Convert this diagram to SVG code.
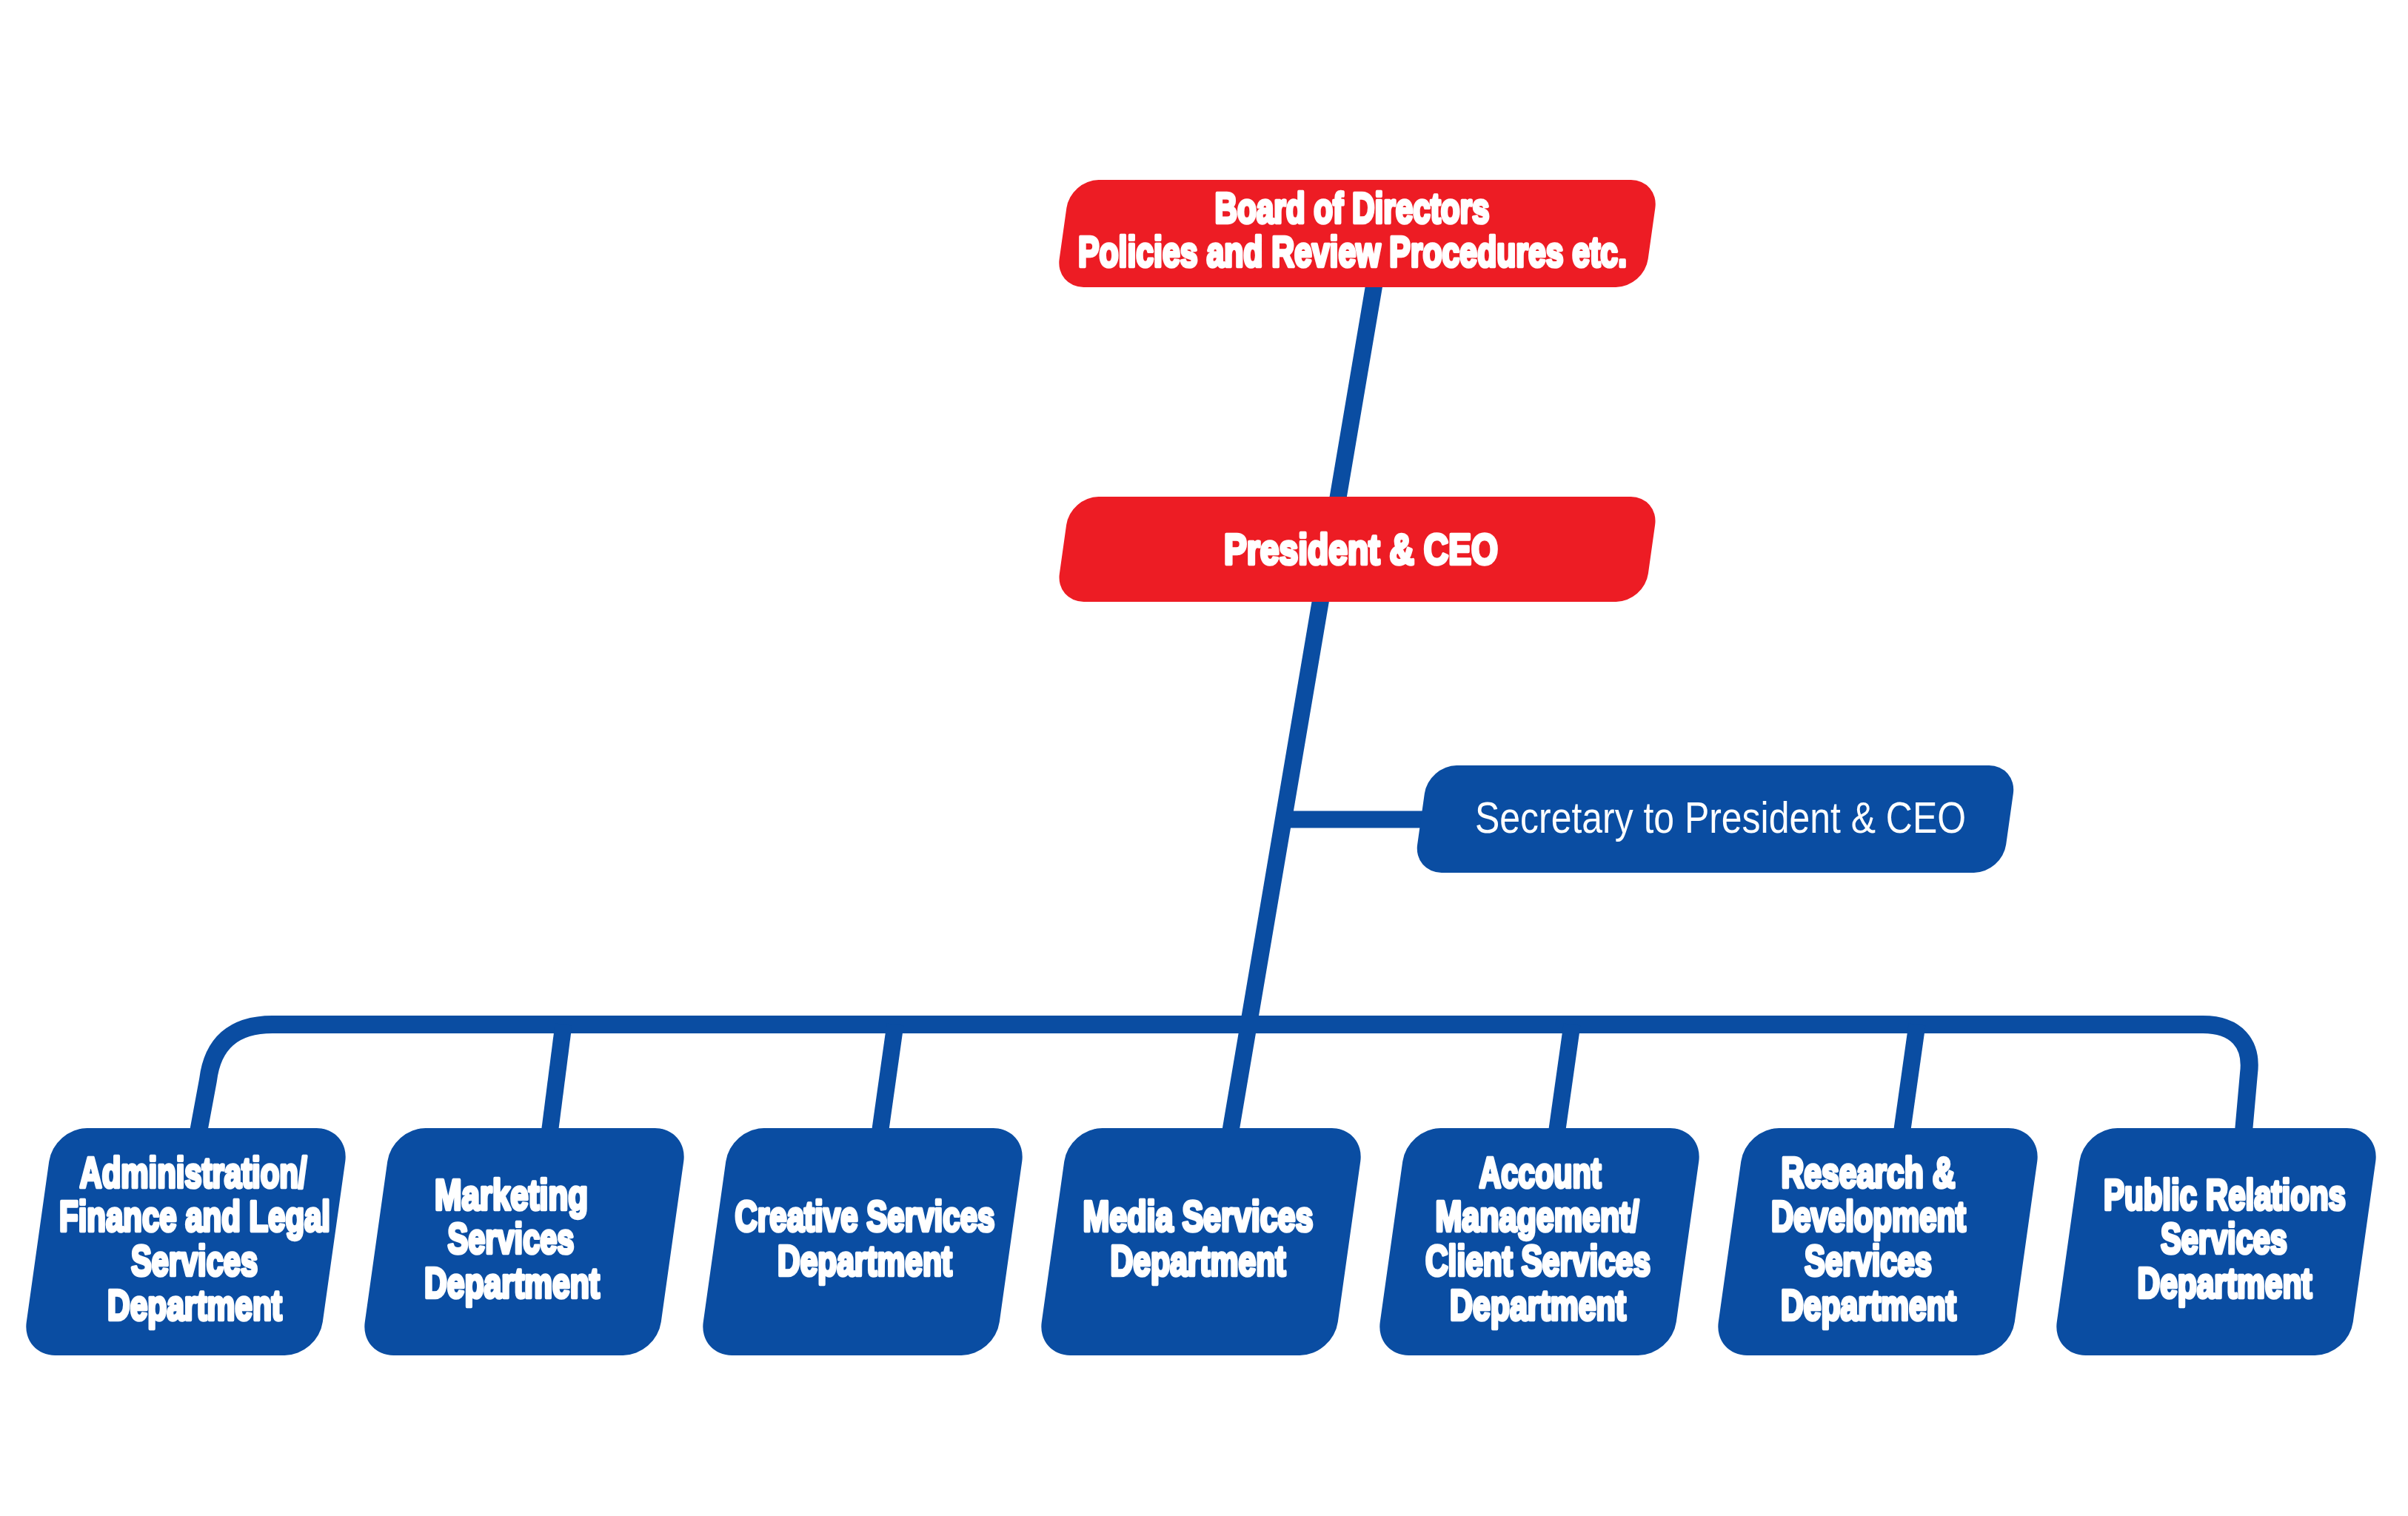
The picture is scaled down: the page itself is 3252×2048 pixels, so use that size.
<svg xmlns="http://www.w3.org/2000/svg" width="3252" height="2048" viewBox="0 0 3252 2048">
<style>
.red{fill:#ED1C24}
.blue{fill:#0A4DA2}
.conn{fill:none;stroke:#0A4DA2;stroke-width:23;stroke-linejoin:round}
.t{font-family:"Liberation Sans",Arial,sans-serif;font-weight:bold;font-size:58px;fill:#FFFFFF;stroke:#FFFFFF;stroke-width:4.5;stroke-linejoin:round;text-anchor:middle}
.tr{font-family:"Liberation Sans",Arial,sans-serif;font-weight:normal;font-size:60px;fill:#FFFFFF;text-anchor:middle}
</style>
<rect width="3252" height="2048" fill="#FFFFFF"/>
<g id="connectors">
<path class="conn" d="M1860,360 L1659,1545"/>
<path class="conn" d="M1733,1107 L1950,1107"/>
<path class="conn" style="stroke-width:24" d="M266,1540 L281,1459 C287,1410 315,1384 368,1384 L2975,1384 C3020,1384 3042,1410 3037,1450 L3029,1540"/>
<path class="conn" d="M761,1384 L741,1540"/>
<path class="conn" d="M1209,1384 L1187,1540"/>
<path class="conn" d="M2123,1384 L2101,1540"/>
<path class="conn" d="M2589,1384 L2567,1540"/>
</g>
<g id="board">
<rect class="red" transform="translate(1833,315.5) skewX(-8)" x="-397.5" y="-72.5" width="795" height="145" rx="38"/>
<g transform="scale(0.72,1)">
<text class="t" x="2536.1" y="301" textLength="515.3" lengthAdjust="spacingAndGlyphs">Board of Directors</text>
<text class="t" x="2536.8" y="360" textLength="1029.2" lengthAdjust="spacingAndGlyphs">Policies and Review Procedures etc.</text>
</g>
</g>
<g id="president">
<rect class="red" transform="translate(1833,742) skewX(-8)" x="-397.5" y="-71" width="795" height="142" rx="38"/>
<g transform="scale(0.72,1)">
<text class="t" x="2552.8" y="762" textLength="513.9" lengthAdjust="spacingAndGlyphs">President &amp; CEO</text>
</g>
</g>
<g id="secretary">
<rect class="blue" transform="translate(2316.5,1106.5) skewX(-8)" x="-397.5" y="-72.5" width="795" height="145" rx="38"/>
<text class="tr" x="2323.5" y="1125" textLength="663" lengthAdjust="spacingAndGlyphs">Secretary to President &amp; CEO</text>
</g>
<g id="admin">
<rect class="blue" transform="translate(251,1677.5) skewX(-8)" x="-200" y="-153.5" width="400" height="307" rx="45"/>
<g transform="scale(0.72,1)">
<text class="t" x="362.5" y="1604" textLength="426.4" lengthAdjust="spacingAndGlyphs">Administration/</text>
<text class="t" x="365.3" y="1663" textLength="508.3" lengthAdjust="spacingAndGlyphs">Finance and Legal</text>
<text class="t" x="364.6" y="1723" textLength="237.5" lengthAdjust="spacingAndGlyphs">Services</text>
<text class="t" x="365.3" y="1783" textLength="327.8" lengthAdjust="spacingAndGlyphs">Department</text>
</g>
</g>
<g id="marketing">
<rect class="blue" transform="translate(708,1677.5) skewX(-8)" x="-200" y="-153.5" width="400" height="307" rx="45"/>
<g transform="scale(0.72,1)">
<text class="t" x="959" y="1634" textLength="287.5" lengthAdjust="spacingAndGlyphs">Marketing</text>
<text class="t" x="958.3" y="1693" textLength="237.5" lengthAdjust="spacingAndGlyphs">Services</text>
<text class="t" x="960.4" y="1753" textLength="329.2" lengthAdjust="spacingAndGlyphs">Department</text>
</g>
</g>
<g id="creative">
<rect class="blue" transform="translate(1165,1677.5) skewX(-8)" x="-200" y="-153.5" width="400" height="307" rx="45"/>
<g transform="scale(0.72,1)">
<text class="t" x="1622.2" y="1663" textLength="487.5" lengthAdjust="spacingAndGlyphs">Creative Services</text>
<text class="t" x="1622.2" y="1723" textLength="327.8" lengthAdjust="spacingAndGlyphs">Department</text>
</g>
</g>
<g id="media">
<rect class="blue" transform="translate(1622,1677.5) skewX(-8)" x="-200" y="-153.5" width="400" height="307" rx="45"/>
<g transform="scale(0.72,1)">
<text class="t" x="2247.2" y="1663" textLength="431.9" lengthAdjust="spacingAndGlyphs">Media Services</text>
<text class="t" x="2247.2" y="1723" textLength="329.2" lengthAdjust="spacingAndGlyphs">Department</text>
</g>
</g>
<g id="account">
<rect class="blue" transform="translate(2079,1677.5) skewX(-8)" x="-200" y="-153.5" width="400" height="307" rx="45"/>
<g transform="scale(0.72,1)">
<text class="t" x="2888.9" y="1604" textLength="229.2" lengthAdjust="spacingAndGlyphs">Account</text>
<text class="t" x="2883.3" y="1663" textLength="381.9" lengthAdjust="spacingAndGlyphs">Management/</text>
<text class="t" x="2884.7" y="1723" textLength="422.2" lengthAdjust="spacingAndGlyphs">Client Services</text>
<text class="t" x="2884.7" y="1783" textLength="330.6" lengthAdjust="spacingAndGlyphs">Department</text>
</g>
</g>
<g id="research">
<rect class="blue" transform="translate(2536,1677.5) skewX(-8)" x="-200" y="-153.5" width="400" height="307" rx="45"/>
<g transform="scale(0.72,1)">
<text class="t" x="3504.2" y="1604" textLength="326.4" lengthAdjust="spacingAndGlyphs">Research &amp;</text>
<text class="t" x="3504.9" y="1663" textLength="365.3" lengthAdjust="spacingAndGlyphs">Development</text>
<text class="t" x="3504.2" y="1723" textLength="238.9" lengthAdjust="spacingAndGlyphs">Services</text>
<text class="t" x="3504.9" y="1783" textLength="329.2" lengthAdjust="spacingAndGlyphs">Department</text>
</g>
</g>
<g id="publicrelations">
<rect class="blue" transform="translate(2993,1677.5) skewX(-8)" x="-200" y="-153.5" width="400" height="307" rx="45"/>
<g transform="scale(0.72,1)">
<text class="t" x="4172.9" y="1634" textLength="454.2" lengthAdjust="spacingAndGlyphs">Public Relations</text>
<text class="t" x="4171.5" y="1693" textLength="237.5" lengthAdjust="spacingAndGlyphs">Services</text>
<text class="t" x="4172.9" y="1753" textLength="327.8" lengthAdjust="spacingAndGlyphs">Department</text>
</g>
</g>
</svg>
